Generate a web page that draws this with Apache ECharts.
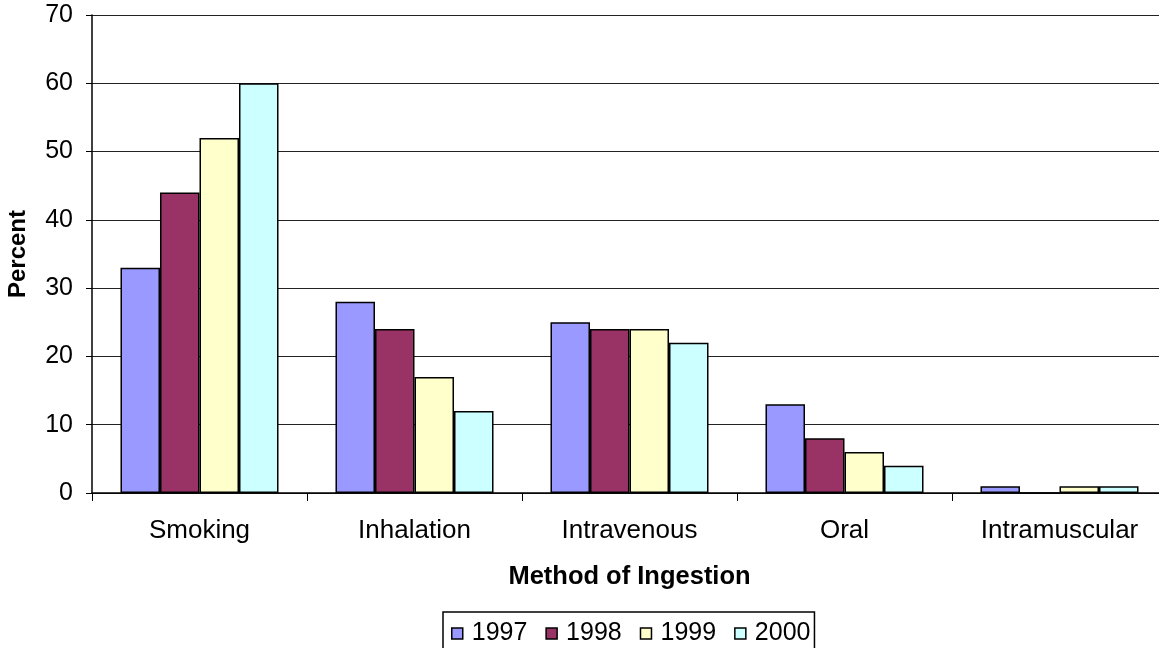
<!DOCTYPE html>
<html><head><meta charset="utf-8">
<script src="https://cdn.jsdelivr.net/npm/echarts@6/dist/echarts.min.js"></script>
<style>html,body{margin:0;padding:0;background:#fff}#c{width:1159px;height:648px}</style>
</head><body><div id="c"></div>
<script>
const categories = ['Smoking','Inhalation','Intravenous','Oral','Intramuscular'];
const years = ['1997','1998','1999','2000'];
const v1997 = [33, 28, 25, 13, 1];
const v1998 = [44, 24, 24, 8, 0];
const v1999 = [52, 17, 24, 6, 1];
const v2000 = [60, 12, 22, 4, 1];
const yTicks = [0,10,20,30,40,50,60,70];
const colors = ['#9999FF','#993366','#FFFFCC','#CCFFFF'];
const values = [v1997, v1998, v1999, v2000];
const font = 'Liberation Sans, Arial, sans-serif';
const chart = echarts.init(document.getElementById('c'));
chart.setOption({
  animation:false,
  grid:{left:92, right:-8, top:15, bottom:155, containLabel:false, outerBoundsMode:'none'},
  legend:{
    data: years, top:612, left:443,
    itemWidth:11, itemHeight:11, itemGap:18,
    padding:[9,4,8,8],
    borderColor:'#000', borderWidth:1.5,
    textStyle:{fontFamily:font, fontSize:25, color:'#000', padding:[0,0,0,4]},
    icon:'rect',
    itemStyle:{borderColor:'#000', borderWidth:1.5}
  },
  xAxis:{
    type:'category', data:categories,
    axisLine:{lineStyle:{color:'#000', width:1.5}},
    axisTick:{show:true, length:8, lineStyle:{color:'#000'}},
    axisLabel:{fontFamily:font, fontSize:26, color:'#000', margin:25},
    name:'Method of Ingestion', nameLocation:'middle', nameGap:71,
    nameTextStyle:{fontFamily:font, fontSize:25.5, fontWeight:'bold', color:'#000'}
  },
  yAxis:{
    type:'value', min:0, max:70, interval:10,
    axisLine:{show:true, lineStyle:{color:'#000', width:1.5}},
    axisTick:{show:true, length:6, lineStyle:{color:'#000'}},
    axisLabel:{fontFamily:font, fontSize:25, color:'#000', margin:19,
      formatter: v => yTicks.includes(v) ? String(v) : ''},
    splitLine:{lineStyle:{color:'#222', width:1}},
    name:'Percent', nameLocation:'middle', nameGap:62,
    nameTextStyle:{fontFamily:font, fontSize:24, fontWeight:'bold', color:'#000'}
  },
  series: years.map((y,i)=>({
    name:y, type:'bar', data:values[i],
    barGap:'0%', barCategoryGap:'26.5%',
    itemStyle:{color:colors[i], borderColor:'#000', borderWidth:1.5}
  }))
});
</script></body></html>
